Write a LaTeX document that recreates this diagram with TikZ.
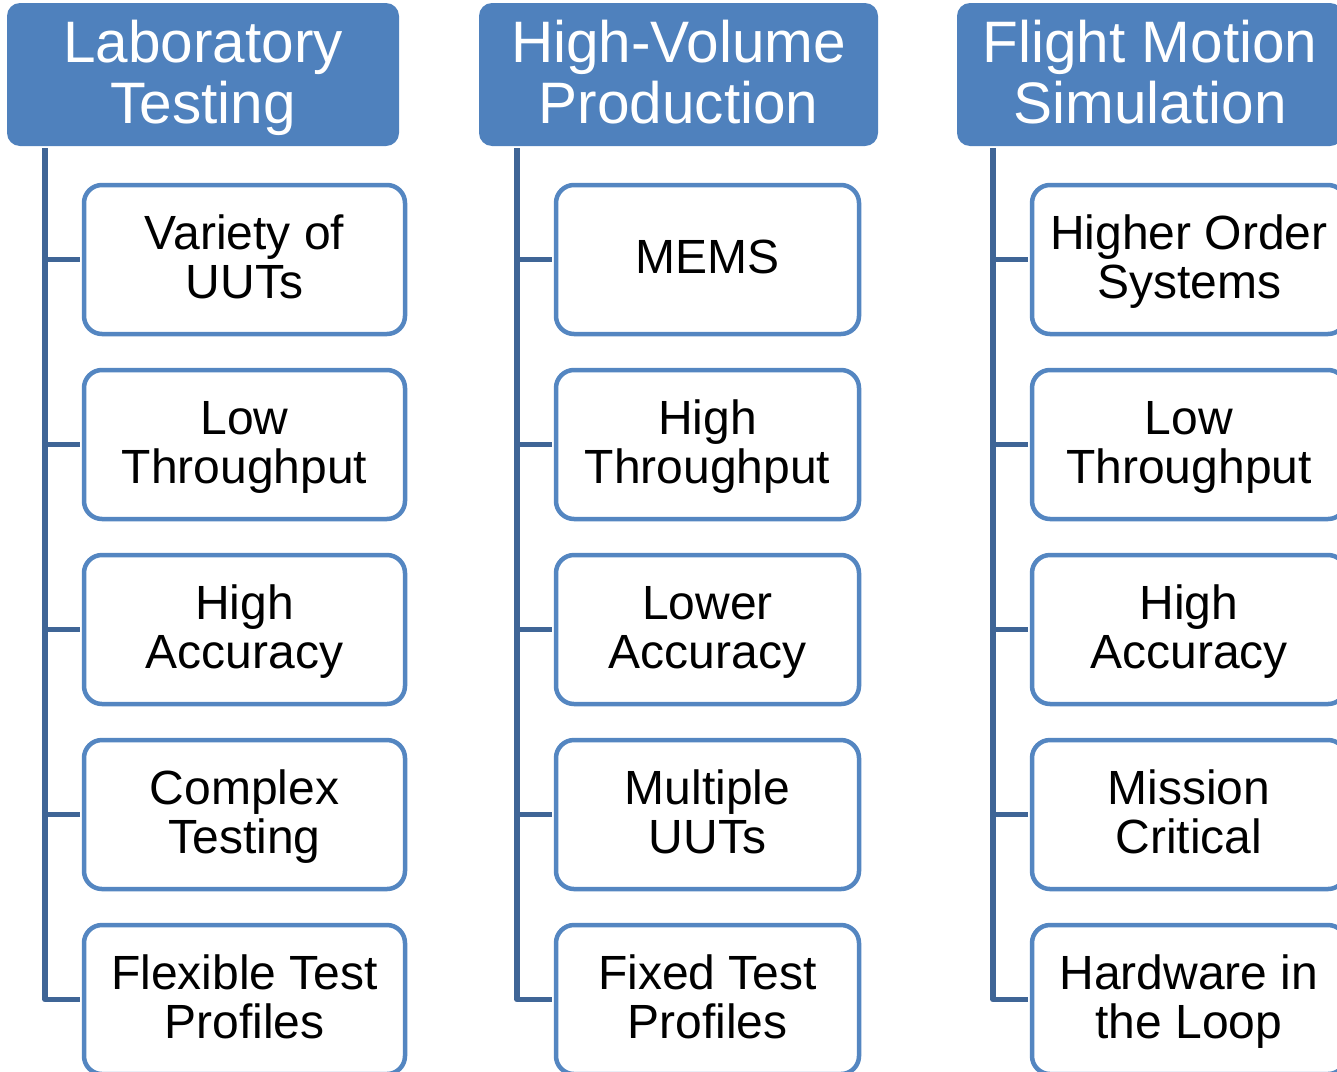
\documentclass[tikz,border=0pt]{standalone}
\usepackage{fontspec}
\setmainfont{Liberation Sans}
\definecolor{hdblue}{RGB}{79,129,189}
\definecolor{boxblue}{RGB}{84,134,193}
\definecolor{treeblue}{RGB}{63,101,150}
\begin{document}
\begin{tikzpicture}[x=1pt,y=-1pt,line join=round,
	head/.style={fill=hdblue,text=white,rounded corners=13pt,minimum height=143pt,inner sep=0pt,text depth=6pt,align=center,font=\fontsize{58.5}{61}\selectfont},
	item/.style={draw=boxblue,line width=4.5pt,fill=white,rounded corners=18pt,minimum height=149pt,inner sep=0pt,text depth=5pt,align=center,font=\fontsize{48}{49}\selectfont},
	tree/.style={draw=treeblue,line width=5.5pt,shorten >=2.25pt}]
	\path[use as bounding box] (0,0) rectangle (1337,1071);
	\clip (0,0) rectangle (1337,1071);
	% headers
	\node[head,minimum width=392pt] (lab) at (203,74.5) {Laboratory\\Testing};
	\node[head,minimum width=399pt] (hvp) at (678.5,74.5) {High-Volume\\Production};
	\node[head,minimum width=386pt] (fms) at (1150,74.5) {Flight Motion\\Simulation};
	\coordinate (labtop) at (45,148);
	\coordinate (hvptop) at (517,148);
	\coordinate (fmstop) at (993,148);
	% items
	\foreach \txt [count=\i] in {{Variety of\\UUTs},{Low\\Throughput},{High\\Accuracy},{Complex\\Testing},{Flexible Test\\Profiles}}
		\node[item,minimum width=321pt] (lab\i) at (244.5,{74.5+185*\i}) {\txt};
	\foreach \txt [count=\i] in {{MEMS},{High\\Throughput},{Lower\\Accuracy},{Multiple\\UUTs},{Fixed Test\\Profiles}}
		\node[item,minimum width=303pt] (hvp\i) at (707.5,{74.5+185*\i}) {\txt};
	\foreach \txt [count=\i] in {{Higher Order\\Systems},{Low\\Throughput},{High\\Accuracy},{Mission\\Critical},{Hardware in\\the Loop}}
		\node[item,minimum width=314pt] (fms\i) at (1189,{74.5+185*\i}) {\txt};
	% tree lines
	\foreach \i in {1,...,5}{
		\draw[tree] (labtop) |- (lab\i.west);
		\draw[tree] (hvptop) |- (hvp\i.west);
		\draw[tree] (fmstop) |- (fms\i.west);
	}
\end{tikzpicture}
\end{document}
